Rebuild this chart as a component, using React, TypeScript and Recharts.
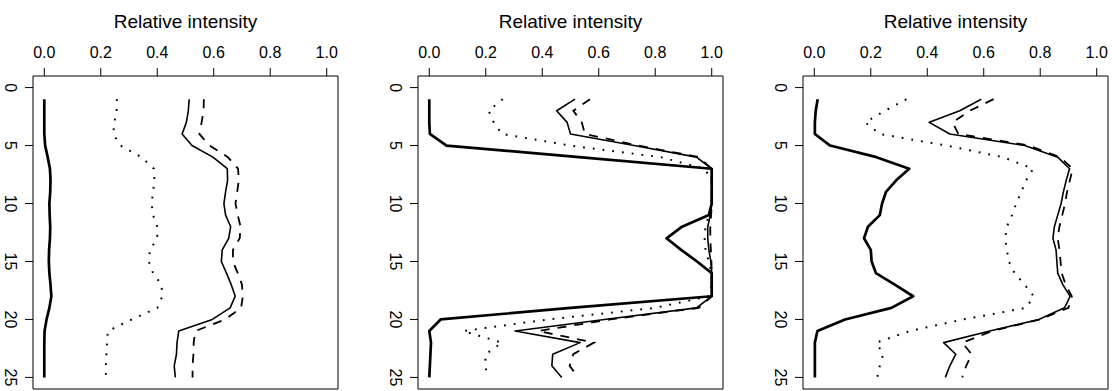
import React from "react";
import { LineChart, Line, XAxis, YAxis, ReferenceArea } from "recharts";

// depth index down the profile (y axis, top to bottom)
const depth = [1, 2, 3, 4, 5, 6, 7, 8, 9, 10, 11, 12, 13, 14, 15, 16, 17, 18, 19, 20, 21, 22, 23, 24, 25];

const xTicks = [0, 0.2, 0.4, 0.6, 0.8, 1.0];
const yTicks = [0, 5, 10, 15, 20, 25];

// ─── Panel 1 ───────────────────────────────────────────────
const p1Bold = [0, 0, 0, 0, 0.003, 0.012, 0.02, 0.022, 0.021, 0.018, 0.019, 0.021, 0.02, 0.017, 0.016, 0.018, 0.022, 0.025, 0.018, 0.008, 0.001, 0, 0, 0, 0];
const p1Dotted = [0.257, 0.256, 0.248, 0.244, 0.27, 0.344, 0.388, 0.39, 0.385, 0.38, 0.385, 0.4, 0.4, 0.374, 0.37, 0.385, 0.415, 0.418, 0.4, 0.31, 0.225, 0.222, 0.22, 0.218, 0.218];
const p1Thin = [0.513, 0.51, 0.503, 0.488, 0.523, 0.597, 0.648, 0.649, 0.642, 0.636, 0.642, 0.66, 0.653, 0.63, 0.627, 0.645, 0.662, 0.676, 0.658, 0.595, 0.476, 0.47, 0.468, 0.46, 0.464];
const p1Dashed = [0.565, 0.564, 0.557, 0.549, 0.585, 0.65, 0.686, 0.689, 0.683, 0.677, 0.685, 0.695, 0.692, 0.668, 0.668, 0.685, 0.7, 0.703, 0.697, 0.64, 0.535, 0.529, 0.528, 0.525, 0.525];

// ─── Panel 2 ───────────────────────────────────────────────
const p2Bold = [0, 0, 0, 0.002, 0.061, 0.53, 1.0, 1.0, 1.0, 1.0, 0.99, 0.895, 0.84, 0.892, 0.948, 1.0, 1.0, 1.0, 0.5, 0.04, 0, 0.006, 0.004, 0.002, 0];
const p2Dotted = [0.26, 0.21, 0.228, 0.257, 0.5, 0.82, 0.975, 1.0, 1.0, 1.0, 0.99, 0.978, 0.975, 0.978, 0.99, 1.0, 1.0, 0.99, 0.8, 0.42, 0.12, 0.257, 0.2, 0.197, 0.21];
const p2Thin = [0.516, 0.451, 0.488, 0.5, 0.725, 0.946, 1.0, 1.0, 1.0, 1.0, 0.995, 0.986, 0.986, 0.99, 0.997, 1.0, 1.0, 1.0, 0.946, 0.62, 0.304, 0.534, 0.437, 0.434, 0.469];
const p2Dashed = [0.569, 0.51, 0.54, 0.551, 0.74, 0.955, 1.0, 1.0, 1.0, 1.0, 0.998, 0.995, 0.995, 0.997, 0.999, 1.0, 1.0, 1.0, 0.955, 0.64, 0.386, 0.583, 0.51, 0.497, 0.527];

// ─── Panel 3 ───────────────────────────────────────────────
const p3Bold = [0.012, 0.005, 0.002, 0.002, 0.056, 0.22, 0.336, 0.29, 0.254, 0.24, 0.232, 0.19, 0.176, 0.2, 0.203, 0.218, 0.285, 0.35, 0.273, 0.109, 0.011, 0.002, 0.002, 0.002, 0.002];
const p3Dotted = [0.326, 0.25, 0.18, 0.232, 0.468, 0.668, 0.775, 0.75, 0.733, 0.715, 0.7, 0.682, 0.676, 0.682, 0.689, 0.709, 0.745, 0.777, 0.75, 0.527, 0.338, 0.22, 0.244, 0.232, 0.223];
const p3Thin = [0.591, 0.515, 0.407, 0.48, 0.745, 0.862, 0.904, 0.892, 0.882, 0.874, 0.862, 0.85, 0.845, 0.856, 0.859, 0.862, 0.88, 0.906, 0.886, 0.795, 0.621, 0.458, 0.501, 0.48, 0.464];
const p3Dashed = [0.635, 0.55, 0.49, 0.51, 0.76, 0.87, 0.915, 0.905, 0.895, 0.888, 0.878, 0.868, 0.862, 0.868, 0.872, 0.876, 0.89, 0.912, 0.9, 0.8, 0.63, 0.524, 0.557, 0.538, 0.524];

const FONT = "'Liberation Sans', Arial, Helvetica, sans-serif";

const PLOT_LEFT = 33;
const PLOT_WIDTH = 305;
const PANEL_STEP = 385;

function XTick(props: any) {
  const { x, payload } = props;
  return (
    <text x={x} y={57.5} textAnchor="middle" fontSize={16} fontFamily={FONT} fill="#000">
      {Number(payload.value).toFixed(1)}
    </text>
  );
}

function YTick(props: any) {
  const { y, payload } = props;
  return (
    <text
      x={5}
      y={y}
      textAnchor="middle"
      fontSize={16}
      fontFamily={FONT}
      fill="#000"
      transform={`rotate(90, 5, ${y})`}
    >
      {payload.value}
    </text>
  );
}

interface PanelProps {
  bold: number[];
  dotted: number[];
  thin: number[];
  dashed: number[];
}

function Panel({ bold, dotted, thin, dashed }: PanelProps) {
  const rows = depth.map((d, i) => ({
    depth: d,
    bold: bold[i],
    dotted: dotted[i],
    thin: thin[i],
    dashed: dashed[i],
  }));

  return (
    <LineChart
      layout="vertical"
      width={PLOT_LEFT + PLOT_WIDTH + 2}
      height={391}
      data={rows}
      margin={{ top: 0, right: 2, bottom: 2, left: 0 }}
    >
      <XAxis
        type="number"
        orientation="top"
        domain={[-0.04, 1.04]}
        ticks={xTicks}
        interval={0}
        height={76}
        axisLine={false}
        tickSize={8}
        tickLine={{ stroke: "#000" }}
        tick={<XTick />}
        allowDataOverflow
      />
      {/* vertical layout already runs the number axis top to bottom */}
      <YAxis
        type="number"
        dataKey="depth"
        domain={[-1, 26]}
        ticks={yTicks}
        interval={0}
        width={PLOT_LEFT}
        axisLine={false}
        tickSize={8}
        tickLine={{ stroke: "#000" }}
        tick={<YTick />}
        allowDataOverflow
      />
      <ReferenceArea x1={-0.04} x2={1.04} y1={-1} y2={26} fill="none" stroke="#000" strokeWidth={1} fillOpacity={0} />
      <Line dataKey="bold" stroke="#000" strokeWidth={2.7} dot={false} isAnimationActive={false} strokeLinejoin="round" />
      <Line dataKey="dotted" stroke="#000" strokeWidth={2} strokeDasharray="1.8 8" dot={false} isAnimationActive={false} />
      <Line dataKey="thin" stroke="#000" strokeWidth={1.6} dot={false} isAnimationActive={false} strokeLinejoin="round" />
      <Line dataKey="dashed" stroke="#000" strokeWidth={1.8} strokeDasharray="9 8" dot={false} isAnimationActive={false} />
      <text
        x={PLOT_LEFT + PLOT_WIDTH / 2}
        y={27.5}
        textAnchor="middle"
        fontSize={19}
        fontFamily={FONT}
        fill="#000"
      >
        Relative intensity
      </text>
    </LineChart>
  );
}

const panels: PanelProps[] = [
  { bold: p1Bold, dotted: p1Dotted, thin: p1Thin, dashed: p1Dashed },
  { bold: p2Bold, dotted: p2Dotted, thin: p2Thin, dashed: p2Dashed },
  { bold: p3Bold, dotted: p3Dotted, thin: p3Thin, dashed: p3Dashed },
];

export default function App() {
  return (
    <div style={{ position: "absolute", left: 0, top: 0, width: 1117, height: 391, background: "#fff", overflow: "hidden" }}>
      {panels.map((p, k) => (
        <div key={k} style={{ position: "absolute", left: k * PANEL_STEP, top: 0 }}>
          <Panel {...p} />
        </div>
      ))}
    </div>
  );
}
